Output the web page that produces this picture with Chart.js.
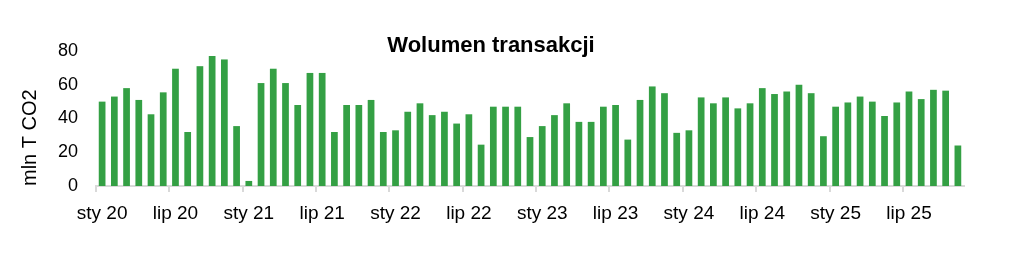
<!DOCTYPE html>
<html lang="pl">
<head>
    <meta charset="UTF-8">
    <title>Wolumen transakcji</title>
    <script src="https://cdn.jsdelivr.net/npm/chart.js"></script>
    <style>
        body {
            margin: 0;
            background: #fff;
        }

        .chart-box {
            position: relative;
            width: 1026px;
            height: 255px;
        }
    </style>
</head>
<body>
    <div class="chart-box">
        <canvas id="volumeChart"></canvas>
    </div>

    <script>
        // Data: monthly volume, Jan 2020 - Nov 2025 (mln T CO2)
        const monthNames = ['sty', 'lut', 'mar', 'kwi', 'maj', 'cze', 'lip', 'sie', 'wrz', 'paź', 'lis', 'gru'];
        const years = ['20', '21', '22', '23', '24', '25'];
        const monthCount = 71;

        const volumes = [
            50, 53, 58, 51, 42.5, 55.5, 69.5, 32, 71, 77, 75, 35.5,
            3, 61, 69.5, 61, 48, 67, 67, 32, 48, 48, 51, 32,
            33, 44, 49, 42, 44, 37, 42.5, 24.5, 47, 47, 47, 29,
            35.5, 42, 49, 38, 38, 47, 48, 27.5, 51, 59, 55, 31.5,
            33, 52.5, 49, 52.5, 46, 49, 58, 54.5, 56, 60, 55, 29.5,
            47, 49.5, 53, 50, 41.5, 49.5, 56, 51.5, 57, 56.5, 24
        ];

        const yTicks = [0, 20, 40, 60, 80];
        const chartTitle = 'Wolumen transakcji';
        const yTitle = 'mln T CO2';

        const categories = [];
        for (let i = 0; i < monthCount; i++) {
            categories.push(monthNames[i % 12] + ' ' + years[Math.floor(i / 12)]);
        }

        // title sits over the plot, so draw it ourselves instead of reserving space
        const titlePlugin = {
            id: 'floatingTitle',
            afterDraw(chart) {
                const ctx = chart.ctx;
                ctx.save();
                ctx.font = 'bold 22px "Liberation Sans", Arial, sans-serif';
                ctx.fillStyle = '#000';
                ctx.textAlign = 'center';
                ctx.textBaseline = 'alphabetic';
                ctx.fillText(chartTitle, 491, 51.5);
                ctx.restore();
            }
        };

        new Chart(document.getElementById('volumeChart'), {
            type: 'bar',
            data: {
                labels: categories,
                datasets: [{
                    label: chartTitle,
                    data: volumes,
                    backgroundColor: '#34a044',
                    barPercentage: 0.55,
                    categoryPercentage: 1.0
                }]
            },
            options: {
                responsive: true,
                maintainAspectRatio: false,
                animation: false,
                layout: {
                    padding: { top: 51, right: 62, bottom: 0, left: 0 }
                },
                plugins: {
                    legend: { display: false },
                    tooltip: { enabled: false }
                },
                scales: {
                    x: {
                        afterFit: (scale) => { scale.height = 69; },
                        border: { display: true, color: '#d9d9d9', width: 2 },
                        grid: {
                            offset: true,
                            drawOnChartArea: false,
                            drawTicks: true,
                            tickLength: 6,
                            lineWidth: 2,
                            color: (ctx) => (ctx.index % 6 === 0 ? '#d9d9d9' : 'rgba(0,0,0,0)')
                        },
                        ticks: {
                            autoSkip: false,
                            maxRotation: 0,
                            minRotation: 0,
                            padding: 10,
                            color: '#000',
                            font: { family: '"Liberation Sans", Arial, sans-serif', size: 19 },
                            callback: (value, index) => (index % 6 === 0 ? categories[index] : '')
                        }
                    },
                    y: {
                        min: 0,
                        max: 80,
                        afterFit: (scale) => { scale.width = 96; },
                        afterBuildTicks: (scale) => {
                            scale.ticks = yTicks.map((v) => ({ value: v }));
                        },
                        border: { display: false },
                        grid: { display: false, drawTicks: false },
                        ticks: {
                            padding: 18,
                            color: '#000',
                            font: { family: '"Liberation Sans", Arial, sans-serif', size: 18 }
                        },
                        title: {
                            display: true,
                            text: yTitle,
                            align: 'start',
                            color: '#000',
                            padding: { top: 18, bottom: 0 },
                            font: { family: '"Liberation Sans", Arial, sans-serif', size: 20 }
                        }
                    }
                }
            },
            plugins: [titlePlugin]
        });
    </script>
</body>
</html>
